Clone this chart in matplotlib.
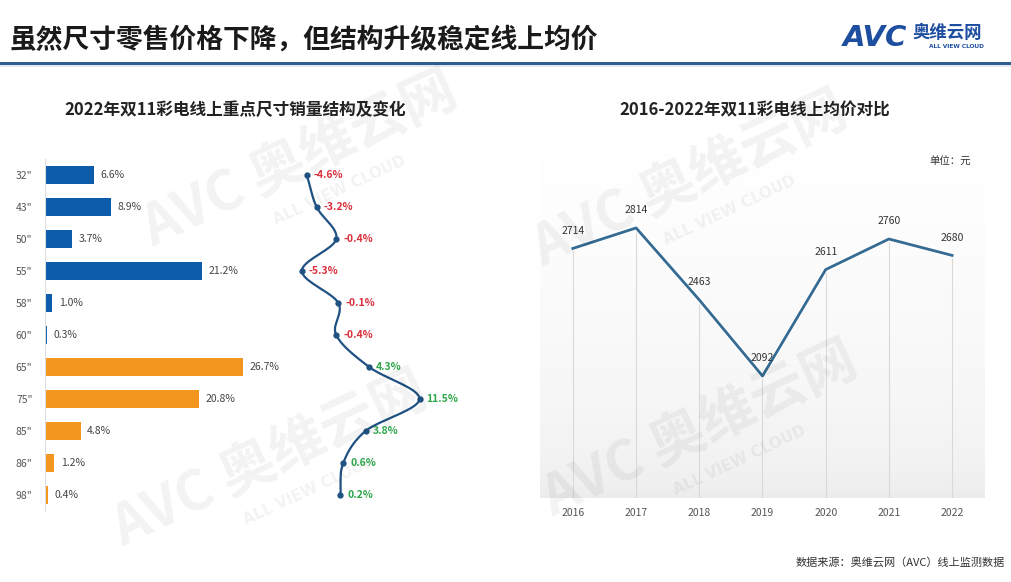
import matplotlib
matplotlib.use("Agg")
import matplotlib.pyplot as plt
import numpy as np

plt.rcParams["font.family"] = ["Noto Sans CJK SC", "DejaVu Sans"]

# data
sizes = ['32"', '43"', '50"', '55"', '58"', '60"', '65"', '75"', '85"', '86"', '98"']
share = [6.6, 8.9, 3.7, 21.2, 1.0, 0.3, 26.7, 20.8, 4.8, 1.2, 0.4]
change = [-4.6, -3.2, -0.4, -5.3, -0.1, -0.4, 4.3, 11.5, 3.8, 0.6, 0.2]
n_blue = 6  # first six sizes drawn in blue, the rest in orange

years = ["2016", "2017", "2018", "2019", "2020", "2021", "2022"]
avg_price = [2714, 2814, 2463, 2092, 2611, 2760, 2680]

W, H = 1012, 582
BLUE = "#0D5CAB"
ORANGE = "#F2961F"
RED = "#DC2F3C"
GREEN = "#2EA64A"
LINE = "#1F5283"


def px_axes(fig, x0, y0, x1, y1):
    """Axes from pixel box (top-left origin)."""
    return fig.add_axes([x0 / W, 1 - y1 / H, (x1 - x0) / W, (y1 - y0) / H])


def smooth(xs, n=20):
    """Catmull-Rom style curve through points, parameterised by row index."""
    xs = np.asarray(xs, float)
    m = np.gradient(xs)
    tt, out = [], []
    for i in range(len(xs) - 1):
        t = np.linspace(0, 1, n, endpoint=False)
        h00 = 2 * t**3 - 3 * t**2 + 1
        h10 = t**3 - 2 * t**2 + t
        h01 = -2 * t**3 + 3 * t**2
        h11 = t**3 - t**2
        out.append(h00 * xs[i] + h10 * m[i] + h01 * xs[i + 1] + h11 * m[i + 1])
        tt.append(i + t)
    tt.append([len(xs) - 1])
    out.append([xs[-1]])
    return np.concatenate(out), np.concatenate(tt)


fig = plt.figure(figsize=(W / 100, H / 100), dpi=100)
fig.patch.set_facecolor("white")

# header
fig.text(10 / W, 1 - 40 / H, "虽然尺寸零售价格下降，但结构升级稳定线上均价",
         fontsize=19.3, fontweight="bold", color="#1A1A1A", va="center", ha="left")
fig.add_artist(plt.Line2D([0, 1], [1 - 63 / H] * 2, color="#2F5E8E", lw=2.2))
fig.add_artist(plt.Line2D([0, 1], [1 - 65.5 / H] * 2, color="#DCE6F0", lw=1.2))
fig.text(843 / W, 1 - 38 / H, "AVC", fontsize=21, fontweight="bold", style="italic",
         color="#1E4EA0", va="center", ha="left", family="DejaVu Sans")
fig.text(913 / W, 1 - 33 / H, "奥维云网", fontsize=12.5, fontweight="bold",
         color="#1E4EA0", va="center", ha="left")
fig.text(929 / W, 1 - 46 / H, "ALL VIEW CLOUD", fontsize=4.2, fontweight="bold",
         color="#1E4EA0", va="center", ha="left", family="DejaVu Sans")

# watermarks
for cx, cy in [(300, 160), (690, 180), (270, 460), (700, 430)]:
    fig.text(cx / W, 1 - cy / H, "AVC 奥维云网", fontsize=40, fontweight="bold",
             color="#000000", alpha=0.05, rotation=25, ha="center", va="center")
    fig.text((cx + 40) / W, 1 - (cy + 30) / H, "ALL VIEW CLOUD", fontsize=11,
             fontweight="bold", color="#000000", alpha=0.05, rotation=25,
             ha="center", va="center", family="DejaVu Sans")

# left panel: share bars
fig.text(235 / W, 1 - 110 / H, "2022年双11彩电线上重点尺寸销量结构及变化",
         fontsize=12, fontweight="bold", color="#222222", ha="center", va="center")

ax = px_axes(fig, 45, 159, 445, 511)
rows = np.arange(len(sizes))
colors = [BLUE if i < n_blue else ORANGE for i in rows]
ax.barh(rows, share, height=0.55, color=colors)
for r, v in zip(rows, share):
    ax.text(v + 0.9, r, f"{v:.1f}%", va="center", ha="left", fontsize=7.5, color="#444444")
ax.set_xlim(0, 400 / 7.42)
ax.set_ylim(len(sizes) - 0.5, -0.5)
ax.set_yticks(rows)
ax.set_yticklabels(sizes, fontsize=7.5, color="#555555")
ax.tick_params(axis="y", length=0, pad=9)
ax.set_xticks([])
for s in ["top", "right", "bottom"]:
    ax.spines[s].set_visible(False)
ax.spines["left"].set_color("#DDDDDD")
ax.patch.set_alpha(0)

# left panel: change curve
ax2 = ax.twiny()
ax2.set_xlim((45 - 339) / 7.0, (445 - 339) / 7.0)
cx, cy = smooth(change)
ax2.plot(cx, cy, color=LINE, lw=1.6)
ax2.plot(change, rows, "o", color=LINE, ms=3.5)
for r, v in zip(rows, change):
    ax2.text(v + 1.0, r, f"{v:.1f}%", va="center", ha="left", fontsize=7.5,
             fontweight="bold", color=RED if v < 0 else GREEN)
ax2.set_xticks([])
for s in ax2.spines.values():
    s.set_visible(False)

# right panel: average price
fig.text(755 / W, 1 - 110 / H, "2016-2022年双11彩电线上均价对比",
         fontsize=12, fontweight="bold", color="#222222", ha="center", va="center")
fig.text(950 / W, 1 - 162 / H, "单位：元", fontsize=7.5, color="#333333",
         ha="center", va="center")

bx = px_axes(fig, 540, 150, 985, 498)
lo, hi = 1497, 3194
bx.set_xlim(-0.52, len(years) - 0.48)
bx.set_ylim(lo, hi)
grad = np.linspace(0, 1, 256).reshape(-1, 1) ** 0.45
bx.imshow(grad, extent=(-0.52, len(years) - 0.48, lo, hi), aspect="auto",
          cmap=matplotlib.colors.LinearSegmentedColormap.from_list(
              "g", ["#EBEBEB", "#FFFFFF"]), origin="lower", zorder=0)
xi = np.arange(len(years))
bx.vlines(xi, lo, avg_price, color="#D9D9D9", lw=0.8, zorder=1)
bx.plot(xi, avg_price, color="white", lw=3.6, zorder=2)
bx.plot(xi, avg_price, color="#356B93", lw=2.0, zorder=3)
for x, v in zip(xi, avg_price):
    bx.annotate(str(v), (x, v), xytext=(0, 9), textcoords="offset points",
                ha="center", va="bottom", fontsize=7.5, color="#333333")
bx.set_xticks(xi)
bx.set_xticklabels(years, fontsize=7.5, color="#555555")
bx.tick_params(axis="x", length=0, pad=7)
bx.set_yticks([])
for s in bx.spines.values():
    s.set_visible(False)

fig.text(1005 / W, 1 - 563 / H, "数据来源：奥维云网（AVC）线上监测数据",
         fontsize=8, color="#333333", ha="right", va="center")

fig.savefig("out.png", dpi=100)
